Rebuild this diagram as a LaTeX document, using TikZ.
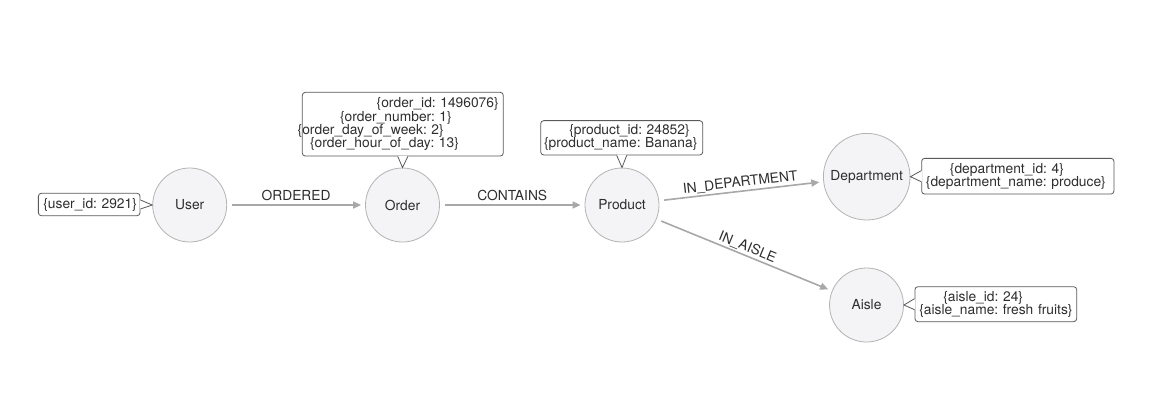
\documentclass[tikz,border=0pt]{standalone}
\usepackage{fontspec}
\setmainfont{TeX Gyre Heros}
\usetikzlibrary{arrows.meta,calc}
\definecolor{edgegray}{HTML}{A8A8A8}
\definecolor{nodefill}{HTML}{F4F4F6}
\definecolor{nodeborder}{HTML}{B4B4B4}
\definecolor{txt}{HTML}{2E2E2E}
\definecolor{calloutborder}{HTML}{5A5A5A}
\frenchspacing
\begin{document}
\begin{tikzpicture}[x=1pt,y=-1pt,
  every node/.style={font=\fontsize{13.8}{13.3}\selectfont, text=txt},
  entity/.style={circle, draw=nodeborder, line width=0.8pt, fill=nodefill, minimum size=74pt, inner sep=0pt},
  props/.style={rectangle, draw=calloutborder, line width=0.8pt, rounded corners=3pt, fill=white, inner xsep=0pt, inner ysep=0pt, align=left},
  rel/.style={draw=edgegray, line width=1.6pt, -{Triangle[length=8pt,width=7pt]}, shorten <=5pt, shorten >=4pt},
  rellabel/.style={midway, sloped, above=3.5pt, inner sep=0pt, text depth=0pt},
  ptr/.style={draw=calloutborder, line width=0.8pt, line join=miter}
]
\fill[white] (0,0) rectangle (1158,409);
\useasboundingbox (0,0) rectangle (1158,409);

% entities
\node[entity] (user) at (189.7,205) {User};
\node[entity] (order) at (402.5,205) {Order};
\node[entity] (product) at (622,205) {Product};
\node[entity, minimum size=86.6pt] (department) at (866.7,176.7) {Department};
\node[entity] (aisle) at (866.5,305) {Aisle};

% relationships
\draw[rel] (user) -- node[rellabel] {ORDERED} (order);
\draw[rel] (order) -- node[rellabel] {CONTAINS} (product);
\draw[rel] (product) -- node[rellabel] {IN\_DEPARTMENT} (department);
\draw[rel] (product) -- node[rellabel] {IN\_AISLE} (aisle);

% property callouts
\node[props, text width=101.7pt, minimum height=22.4pt] (userprops) at (89.2,204.5)
  {\hspace*{5pt}\{user\_id: 2921\}};
\node[props, text width=201pt, minimum height=63.7pt] (orderprops) at (402.8,124.2)
  {\hspace*{74.4pt}\{order\_id: 1496076\}\\
   \hspace*{37.7pt}\{order\_number: 1\}\\
   \hspace*{-4.6pt}\{order\_day\_of\_week: 2\}\\
   \hspace*{7.7pt}\{order\_hour\_of\_day: 13\}};
\node[props, text width=162pt, minimum height=34.3pt] (productprops) at (621.7,137.8)
  {\hspace*{28.6pt}\{product\_id: 24852\}\\
   \hspace*{3.3pt}\{product\_name: Banana\}};
\node[props, text width=192.3pt, minimum height=35.7pt] (deptprops) at (1017.8,176.2)
  {\hspace*{28.3pt}\{department\_id: 4\}\\
   \hspace*{4.3pt}\{department\_name: produce\}};
\node[props, text width=161.7pt, minimum height=35pt] (aisleprops) at (995.8,304.2)
  {\hspace*{28.3pt}\{aisle\_id: 24\}\\
   \hspace*{4.3pt}\{aisle\_name: fresh fruits\}};

% callout pointers
\fill[white] ($(userprops.east)+(-0.7,-4.5)$) -- (user.west) -- ($(userprops.east)+(-0.7,4.5)$) -- cycle;
\draw[ptr] ($(userprops.east)+(0,-4.5)$) -- (user.west) -- ($(userprops.east)+(0,4.5)$);

\fill[white] ($(orderprops.south)+(-5,-0.7)$) -- (order.north) -- ($(orderprops.south)+(5,-0.7)$) -- cycle;
\draw[ptr] ($(orderprops.south)+(-5,0)$) -- (order.north) -- ($(orderprops.south)+(5,0)$);

\fill[white] ($(productprops.south)+(-5,-0.7)$) -- (product.north) -- ($(productprops.south)+(5,-0.7)$) -- cycle;
\draw[ptr] ($(productprops.south)+(-5,0)$) -- (product.north) -- ($(productprops.south)+(5,0)$);

\fill[white] ($(deptprops.west)+(0.7,-5.5)$) -- (department.east) -- ($(deptprops.west)+(0.7,5.5)$) -- cycle;
\draw[ptr] ($(deptprops.west)+(0,-5.5)$) -- (department.east) -- ($(deptprops.west)+(0,5.5)$);

\fill[white] ($(aisleprops.west)+(0.7,-5.5)$) -- (aisle.east) -- ($(aisleprops.west)+(0.7,5.5)$) -- cycle;
\draw[ptr] ($(aisleprops.west)+(0,-5.5)$) -- (aisle.east) -- ($(aisleprops.west)+(0,5.5)$);
\end{tikzpicture}
\end{document}
